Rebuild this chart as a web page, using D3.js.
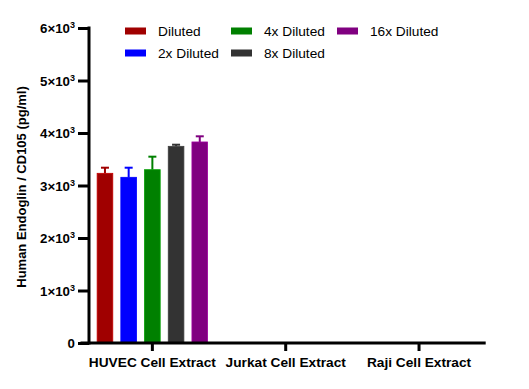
<!DOCTYPE html>
<html><head><meta charset="utf-8">
<script src="https://cdn.jsdelivr.net/npm/d3@7"></script>
<style>body{margin:0;background:#fff;}svg{display:block;font-family:"Liberation Sans",Arial,sans-serif;}</style>
</head><body>
<svg id="c" width="529" height="389"></svg>
<script>
const categories = ["HUVEC Cell Extract", "Jurkat Cell Extract", "Raji Cell Extract"];
const seriesNames = ["Diluted", "2x Diluted", "4x Diluted", "8x Diluted", "16x Diluted"];
const seriesColors = ["#a00000", "#0000ff", "#008000", "#333333", "#800080"];
// values per series, per category (null = no bar)
const valDiluted   = [3232, null, null];
const val2x        = [3156, null, null];
const val4x        = [3301, null, null];
const val8x        = [3746, null, null];
const val16x       = [3829, null, null];
const errDiluted   = [107, null, null];
const err2x        = [183, null, null];
const err4x        = [248, null, null];
const err8x        = [31, null, null];
const err16x       = [108, null, null];
const yTicks = [0, 1000, 2000, 3000, 4000, 5000, 6000];
const yLabel = "Human Endoglin / CD105 (pg/ml)";

const values = [valDiluted, val2x, val4x, val8x, val16x];
const errors = [errDiluted, err2x, err4x, err8x, err16x];

const svg = d3.select("#c");
const y = d3.scaleLinear().domain([0, 6000]).range([343, 28]);
const x = d3.scaleBand().domain(categories).range([85.7, 485.7]).padding(0);
const inner = d3.scaleBand().domain(seriesNames).range([-59.25, 59.25]).paddingInner(0.34).paddingOuter(0.17);

// bars
const data = [];
categories.forEach((c, ci) => seriesNames.forEach((s, si) => {
  if (values[si][ci] != null) data.push({c, s, si, v: values[si][ci], e: errors[si][ci]});
}));
const g = svg.append("g");
data.forEach(d => {
  const cx = x(d.c) + x.bandwidth() / 2 + inner(d.s);
  const col = seriesColors[d.si];
  const mid = cx + inner.bandwidth() / 2;
  // error bar
  g.append("line").attr("x1", mid).attr("x2", mid).attr("y1", y(d.v)).attr("y2", y(d.v + d.e))
    .attr("stroke", col).attr("stroke-width", 2);
  g.append("line").attr("x1", mid - 4).attr("x2", mid + 4).attr("y1", y(d.v + d.e)).attr("y2", y(d.v + d.e))
    .attr("stroke", col).attr("stroke-width", 2);
  g.append("rect").attr("x", cx).attr("y", y(d.v)).attr("width", inner.bandwidth())
    .attr("height", y(0) - y(d.v)).attr("fill", col)
    .attr("stroke", d3.color(col).brighter(0.6)).attr("stroke-width", 0.8);
});

// y axis
const ya = svg.append("g").attr("transform", "translate(89,0)")
  .call(d3.axisLeft(y).tickValues(yTicks).tickSize(11).tickSizeOuter(0).tickFormat(""));
ya.select(".domain").attr("stroke", "#000").attr("stroke-width", 3).attr("d", "M0,26.5V344.5");
ya.selectAll(".tick line").attr("stroke", "#000").attr("stroke-width", 3);
ya.selectAll(".tick").each(function(v) {
  const t = d3.select(this).append("text").attr("x", -14).attr("dy", "0.35em")
    .attr("text-anchor", "end").attr("fill", "#000").attr("font-weight", "bold").attr("font-size", 13.3);
  if (v === 0) { t.text("0"); }
  else {
    t.append("tspan").text((v / 1000) + "\u00d710");
    t.append("tspan").text("3").attr("font-size", 9).attr("dy", -5);
  }
});

// x axis
const xa = svg.append("g").attr("transform", "translate(0,343)")
  .call(d3.axisBottom(x).tickSize(8).tickSizeOuter(0));
xa.select(".domain").attr("stroke", "#000").attr("stroke-width", 3).attr("d", "M80.5,0H485.7");
xa.selectAll(".tick line").attr("stroke", "#000").attr("stroke-width", 3);
xa.selectAll(".tick text").attr("y", 14).attr("dy", "0.71em").attr("fill", "#000")
  .attr("font-weight", "bold").attr("font-size", 13.7).attr("font-family", "Liberation Sans, Arial, sans-serif");

// y label
svg.append("text").attr("transform", "translate(26,187) rotate(-90)").attr("text-anchor", "middle")
  .attr("font-weight", "bold").attr("font-size", 13).attr("fill", "#000").text(yLabel);

// legend
const legPos = [[125, 31], [125, 53], [231, 31], [231, 53], [337, 31]];
seriesNames.forEach((s, i) => {
  const [lx, ly] = legPos[i];
  svg.append("rect").attr("x", lx).attr("y", ly - 3.5).attr("width", 21).attr("height", 7).attr("fill", seriesColors[i]);
  svg.append("text").attr("x", lx + 33).attr("y", ly).attr("dy", "0.35em").attr("font-size", 13.7)
    .attr("fill", "#000").text(s);
});
</script>
</body></html>
